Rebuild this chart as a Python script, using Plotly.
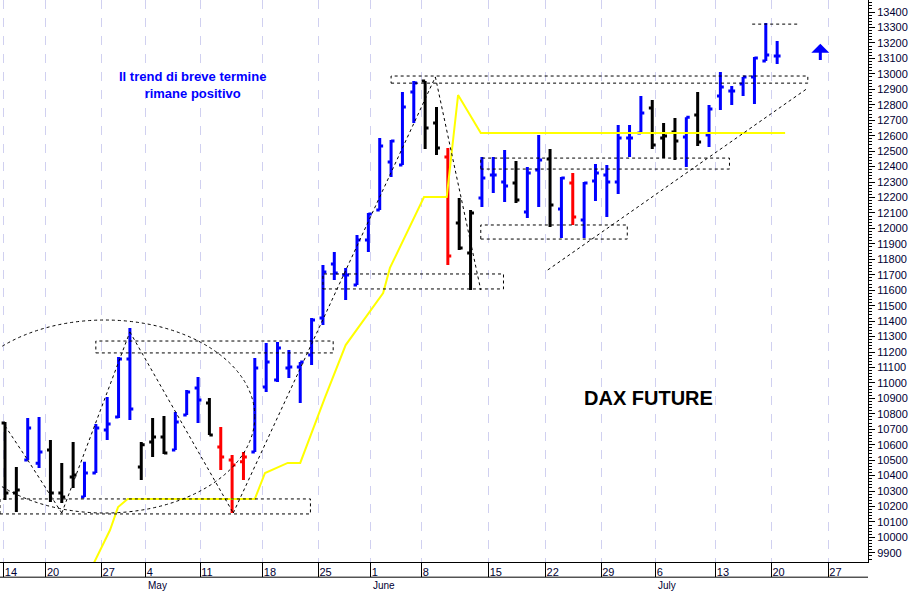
import plotly.graph_objects as go

# --- Barre giornaliere DAX future (indice di seduta) ---
open_ = [10741, 10288, 10501, 10480, 10566, 10288, 10391, 10262, 10417, 10696,
         10780, 11155, 10456, 10618, 10650, 10566, 10793, 10967, 10870, 10586,
         10501, 10489, 10553, 10974, 11019, 11097, 11103, 11181, 11420, 11770,
         11698, 11634, 11925, 12119, 12430, 12410, 12882, 12954, 12682, 12462,
         12035, 11840, 12197, 12345, 12300, 12293, 12106, 12378, 12449, 12125,
         12293, 12054, 12307, 12345, 12300, 12585, 12617, 12779, 12585, 12624,
         12591, 12734, 12604, 12857, 12889, 12934, 12979, 13083, 13115]
high = [10747, 10456, 10773, 10780, 10631, 10482, 10618, 10489, 10734, 10909,
        11168, 11356, 10618, 10773, 10786, 10812, 10954, 11038, 10903, 10715,
        10534, 10553, 11161, 11258, 11265, 11213, 11135, 11420, 11763, 11847,
        11744, 11957, 12100, 12585, 12572, 12882, 12954, 12954, 12785, 12520,
        12197, 12119, 12462, 12462, 12507, 12436, 12397, 12604, 12514, 12332,
        12358, 12300, 12417, 12410, 12669, 12669, 12857, 12831, 12682, 12714,
        12720, 12882, 12798, 13012, 12921, 12979, 13109, 13329, 13212]
low = [10243, 10165, 10501, 10450, 10230, 10223, 10320, 10262, 10417, 10631,
       10773, 10760, 10372, 10521, 10540, 10566, 10793, 10741, 10663, 10437,
       10158, 10372, 10553, 10941, 11006, 11032, 10870, 11116, 11375, 11666,
       11537, 11634, 11847, 12119, 12332, 12410, 12682, 12514, 12475, 11763,
       11860, 11601, 12138, 12229, 12171, 12164, 12067, 12138, 12009, 11938,
       12022, 11938, 12177, 12074, 12223, 12462, 12617, 12514, 12456, 12442,
       12397, 12533, 12527, 12766, 12798, 12857, 12805, 13083, 13064]
close = [10288, 10307, 10708, 10553, 10288, 10262, 10404, 10417, 10708, 10734,
         11155, 10831, 10599, 10650, 10547, 10747, 10941, 10890, 10663, 10521,
         10469, 10521, 11097, 11135, 11226, 11103, 11135, 11407, 11718, 11711,
         11698, 11925, 12093, 12533, 12565, 12785, 12941, 12649, 12520, 11821,
         11873, 12100, 12326, 12345, 12274, 12184, 12358, 12442, 12151, 12326,
         12074, 12293, 12358, 12300, 12585, 12585, 12746, 12540, 12598, 12565,
         12720, 12559, 12772, 12915, 12889, 12979, 13102, 13122, 13115]
bar_color = (["k", "k", "b", "b", "k", "k", "k", "b", "b", "b", "b", "b", "k", "k",
              "k", "b", "b", "b", "k", "r", "r", "r", "b", "b", "b", "b", "b", "b",
              "b", "b", "b", "b", "b", "b", "b", "b", "b", "k", "k", "r", "k", "k",
              "b", "b", "b", "k", "b", "b", "k", "b", "r", "b", "b", "b", "b", "b",
              "b", "k", "k", "k", "b", "k", "b", "b", "b", "b", "b", "b", "b"])

# --- Linea gialla ---
ma_x = [7.6, 9.25, 9.96, 10.8, 22.0, 22.9, 24.9, 26.0, 28.2, 30.0, 33.3, 33.9,
        36.9, 38.9, 39.9, 41.9, 68.7]
ma_y = [9800, 10048, 10197, 10249, 10249, 10417, 10482, 10482, 10909, 11245,
        11582, 11744, 12203, 12203, 12863, 12617, 12617]

# --- Assi ---
tick_pos = [-0.1, 3.6, 8.5, 12.4, 17.2, 22.7, 27.6, 32.2, 36.7, 42.6, 47.6, 52.5,
            57.3, 62.6, 67.5, 72.5]
tick_text = ["14", "20", "27", "4", "11", "18", "25", "1", "8", "15", "22", "29",
             "6", "13", "20", "27"]
months = ["May", "June", "July"]
month_pos = [12.4, 32.2, 57.3]

colors = {"b": "#0000ff", "k": "#000000", "r": "#ff0000"}

fig = go.Figure()
for key, col in colors.items():
    idx = [i for i, c in enumerate(bar_color) if c == key]
    fig.add_trace(go.Ohlc(
        x=idx,
        open=[open_[i] for i in idx], high=[high[i] for i in idx],
        low=[low[i] for i in idx], close=[close[i] for i in idx],
        increasing=dict(line=dict(color=col, width=3)),
        decreasing=dict(line=dict(color=col, width=3)),
        tickwidth=0.3, showlegend=False, hoverinfo="skip"))

fig.add_trace(go.Scatter(x=ma_x, y=ma_y, mode="lines", hoverinfo="skip",
                         line=dict(color="#ffff00", width=2), showlegend=False))

dash = dict(color="black", width=1, dash="dot")
# rettangoli di supporto/resistenza
boxes = [(-0.44, 26.9, 10152, 10249), (8.0, 28.9, 11194, 11271),
         (28.0, 43.9, 11608, 11705), (34.0, 70.7, 12940, 12986),
         (41.9, 63.8, 12384, 12455), (41.9, 54.8, 11931, 12022)]
for x0, x1, y0, y1 in boxes:
    fig.add_shape(type="rect", x0=x0, x1=x1, y0=y0, y1=y1, line=dash)
# linee di tendenza
segs = [(0.0, 10722, 2.0, 10501), (2.0, 10501, 5.0, 10158), (5.0, 10158, 11.0, 11330),
        (11.0, 11330, 20.1, 10158), (20.1, 10158, 37.9, 12980), (37.9, 12980, 41.9, 11601),
        (47.8, 11731, 70.7, 12908), (65.8, 13322, 69.8, 13322)]
for x0, y0, x1, y1 in segs:
    fig.add_shape(type="line", x0=x0, y0=y0, x1=x1, y1=y1, line=dash)
fig.add_shape(type="circle", x0=-4.4, x1=22.0, y0=10158, y1=11407, line=dash)

fig.add_annotation(x=16.5, y=12930, text="<b>Il trend di breve termine<br>rimane positivo</b>",
                   showarrow=False, font=dict(family="Arial", size=13, color="#0000ff"))
fig.add_annotation(x=56.7, y=10900, text="<b>DAX FUTURE</b>", showarrow=False,
                   font=dict(family="Arial", size=20, color="black"))
fig.add_annotation(x=71.8, y=13195, ax=71.8, ay=13080, xref="x", yref="y",
                   axref="x", ayref="y", text="", showarrow=True, arrowhead=1,
                   arrowsize=1, arrowwidth=3, arrowcolor="#0000ff")

for m, p in zip(months, month_pos):
    fig.add_annotation(x=p, y=-0.041, xref="x", yref="paper", text=m, showarrow=False,
                       xanchor="left", yanchor="middle", font=dict(family="Arial", size=10, color="#000033"))
fig.add_shape(type="line", xref="paper", yref="paper", x0=0, x1=1, y0=-0.027, y1=-0.027,
              line=dict(color="black", width=1))

fig.update_layout(
    width=921, height=592, margin=dict(l=0, r=53, t=0, b=30),
    paper_bgcolor="white", plot_bgcolor="white",
    font=dict(family="Arial", size=11, color="#000033"),
    xaxis=dict(range=[-0.44, 76.0], tickvals=tick_pos, ticktext=tick_text, automargin=False,
               ticklabelposition="outside right", ticks="outside", ticklen=14,
               tickcolor="black", showgrid=True, gridcolor="#d0d0f0", griddash="dash",
               showline=True, linecolor="black", zeroline=False, rangeslider=dict(visible=False)),
    yaxis=dict(range=[9841, 13478], side="right", dtick=100, tickformat="d", ticks="outside",
               automargin=False,
               ticklen=6, tickcolor="black", showgrid=False, showline=True, linecolor="black",
               zeroline=False, minor=dict(dtick=20, ticks="outside", ticklen=3, tickcolor="black")),
)

fig.write_html("out.html", config={"displayModeBar": False},
               post_script="document.body.style.margin='0';")
